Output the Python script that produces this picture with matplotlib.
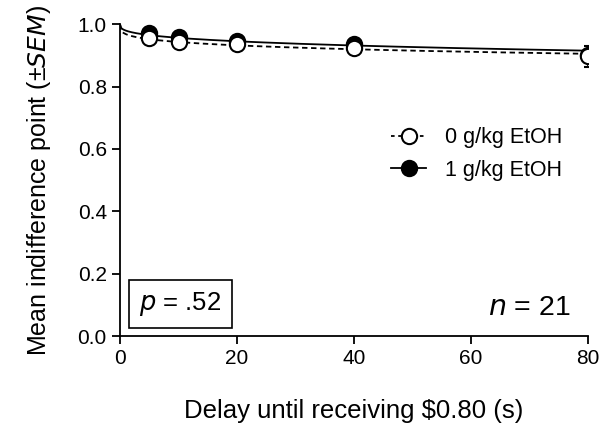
import numpy as np
import matplotlib.pyplot as plt

plt.rcParams['font.family'] = ['Liberation Sans', 'DejaVu Sans']

delays = [5, 10, 20, 40, 80]
ip_0g = [0.955, 0.943, 0.935, 0.924, 0.897]
sem_0g = [0.010, 0.010, 0.010, 0.012, 0.033]
ip_1g = [0.971, 0.959, 0.946, 0.938, 0.901]
sem_1g = [0.008, 0.008, 0.009, 0.010, 0.020]

# hyperboloid fit parameters V = 1 / (1 + k * D^s)
k_0g, s_0g = 0.033, 0.264
k_1g, s_1g = 0.021, 0.339


def hyperboloid(d, k, s):
    return 1.0 / (1.0 + k * d ** s)


fig = plt.figure(figsize=(6, 4.32), dpi=100)
ax = fig.add_axes([0.2, 0.222, 0.78, 0.722])

xx = np.linspace(0, 80, 400)
ax.plot(xx, hyperboloid(xx, k_1g, s_1g), color='black', lw=1.3, zorder=2)
ax.plot(xx, hyperboloid(xx, k_0g, s_0g), color='black', lw=1.3, ls=(0, (3, 2)), zorder=2)

ax.errorbar(delays, ip_1g, yerr=sem_1g, fmt='o', ms=11, mfc='black', mec='black',
            mew=1.5, ecolor='black', elinewidth=1.2, capsize=3, zorder=3)
ax.errorbar(delays, ip_0g, yerr=sem_0g, fmt='o', ms=11, mfc='white', mec='black',
            mew=1.5, ecolor='black', elinewidth=1.2, capsize=3, zorder=4)

# legend handles
h0, = ax.plot([], [], color='black', lw=1.3, ls=(0, (2, 2)), marker='o', ms=11,
              mfc='white', mec='black', mew=1.5)
h1, = ax.plot([], [], color='black', lw=1.3, marker='o', ms=11,
              mfc='black', mec='black', mew=1.5)
ax.legend([h0, h1], ['0 g/kg EtOH', '1 g/kg EtOH'], loc='upper left',
          bbox_to_anchor=(0.58, 0.67), frameon=False, fontsize=15.5,
          borderpad=0, borderaxespad=0,
          handlelength=1.6, handletextpad=0.9, labelspacing=0.55)

ax.set_xlim(0, 80)
ax.set_ylim(0, 1.0)
ax.set_xticks([0, 20, 40, 60, 80])
ax.set_yticks([0.0, 0.2, 0.4, 0.6, 0.8, 1.0])
ax.set_yticklabels(['0.0', '0.2', '0.4', '0.6', '0.8', '1.0'])
ax.tick_params(labelsize=15, width=1.3, length=6, direction='out')
for side in ['top', 'right']:
    ax.spines[side].set_visible(False)
for side in ['left', 'bottom']:
    ax.spines[side].set_linewidth(1.3)

ax.set_xlabel('Delay until receiving $0.80 (s)', fontsize=18.5, labelpad=22)
ax.set_ylabel('Mean indifference point (\u00b1$\\mathit{SEM}$)', fontsize=18, labelpad=18)

ax.text(3.3, 0.058, '$\\mathit{p}$ = .52', fontsize=18.5, ha='left', va='bottom',
        bbox=dict(boxstyle='square,pad=0.4', fc='white', ec='black', lw=1.2))
ax.text(77, 0.05, '$\\mathit{n}$ = 21', fontsize=20.5, ha='right', va='bottom')

fig.savefig('out.png', dpi=100)
